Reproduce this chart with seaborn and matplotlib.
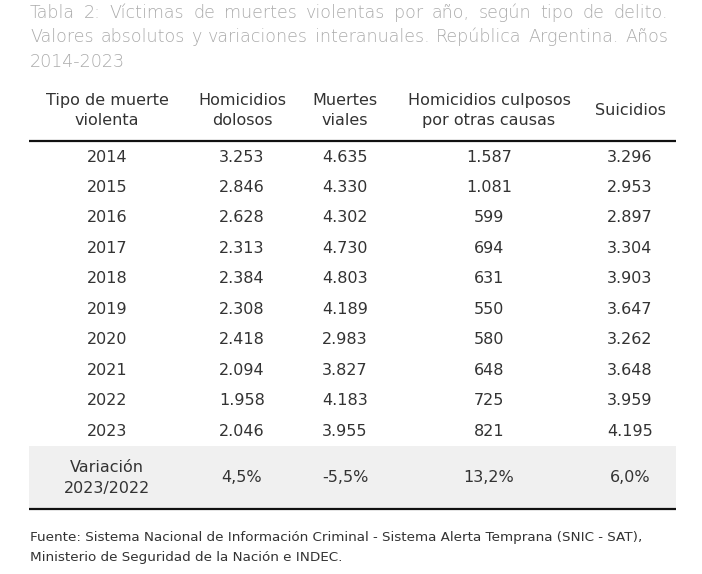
import matplotlib
matplotlib.use("Agg")
import matplotlib.pyplot as plt
import seaborn as sns

# -----------------------------------------------------------------------------
# Data
# -----------------------------------------------------------------------------
years = [2014, 2015, 2016, 2017, 2018, 2019, 2020, 2021, 2022, 2023]
homicidios_dolosos = [3253, 2846, 2628, 2313, 2384, 2308, 2418, 2094, 1958, 2046]
muertes_viales = [4635, 4330, 4302, 4730, 4803, 4189, 2983, 3827, 4183, 3955]
homicidios_culposos = [1587, 1081, 599, 694, 631, 550, 580, 648, 725, 821]
suicidios = [3296, 2953, 2897, 3304, 3903, 3647, 3262, 3648, 3959, 4195]
variacion = [4.5, -5.5, 13.2, 6.0]

headers = ["Tipo de muerte\nviolenta", "Homicidios\ndolosos", "Muertes\nviales",
           "Homicidios culposos\npor otras causas", "Suicidios"]
title_lines = [
    "Tabla 2: Víctimas de muertes violentas por año, según tipo de delito.",
    "Valores absolutos y variaciones interanuales. República Argentina. Años",
    "2014-2023",
]
source_lines = [
    "Fuente: Sistema Nacional de Información Criminal - Sistema Alerta Temprana (SNIC - SAT),",
    "Ministerio de Seguridad de la Nación e INDEC.",
]

# -----------------------------------------------------------------------------
# Style
# -----------------------------------------------------------------------------
sns.set_theme(style="white")
plt.rcParams["font.family"] = ["DejaVu Sans"]

TEXT = "#333333"
TITLE_GRAY = "#ababab"
BAND = "#f0f0f0"
FS = 11.5
TFS = 12.6


def fmt_int(v):
    return f"{v:,}".replace(",", ".")


def fmt_pct(v):
    return f"{v:.1f}%".replace(".", ",")


fig = plt.figure(figsize=(7.02, 5.74), dpi=100)
ax = fig.add_axes([0, 0, 1, 1])
ax.set_xlim(0, 702)
ax.set_ylim(574, 0)
ax.axis("off")

# ---- title (justified) ------------------------------------------------------
left, right = 30, 668
title_y = [18, 42.5, 67]
renderer = fig.canvas.get_renderer()
for i, line in enumerate(title_lines):
    words = line.split(" ")
    if i == len(title_lines) - 1:
        ax.text(left, title_y[i], line, fontsize=TFS, color=TITLE_GRAY,
                ha="left", va="baseline", fontweight="light")
        continue
    arts = [ax.text(0, title_y[i], w, fontsize=TFS, color=TITLE_GRAY,
                    ha="left", va="baseline", fontweight="light") for w in words]
    widths = [a.get_window_extent(renderer).width for a in arts]
    gap = (right - left - sum(widths)) / (len(words) - 1)
    x = left
    for a, w in zip(arts, widths):
        a.set_x(x)
        x += w + gap

# ---- table ------------------------------------------------------------------
col_x = [107, 242, 345, 489, 630]
for x, h in zip(col_x, headers):
    ax.text(x, 110.5, h, fontsize=FS, color=TEXT, ha="center", va="center",
            linespacing=1.42)

ax.plot([29, 676], [141, 141], color="#111111", lw=1.6, solid_capstyle="butt")

row_y0, row_dy = 157, 30.45
for r, yr in enumerate(years):
    y = row_y0 + r * row_dy
    vals = [str(yr), fmt_int(homicidios_dolosos[r]), fmt_int(muertes_viales[r]),
            fmt_int(homicidios_culposos[r]), fmt_int(suicidios[r])]
    for x, v in zip(col_x, vals):
        ax.text(x, y, v, fontsize=FS, color=TEXT, ha="center", va="center")

ax.fill_between([29, 676], 446, 509, color=BAND, lw=0)
ax.text(col_x[0], 478, "Variación\n2023/2022", fontsize=FS, color=TEXT,
        ha="center", va="center", linespacing=1.42)
for x, v in zip(col_x[1:], variacion):
    ax.text(x, 478, fmt_pct(v), fontsize=FS, color=TEXT, ha="center", va="center")
ax.plot([29, 676], [509, 509], color="#111111", lw=1.6, solid_capstyle="butt")

# ---- source -----------------------------------------------------------------
for i, line in enumerate(source_lines):
    ax.text(30, 541 + i * 20, line, fontsize=9.7, color=TEXT,
            ha="left", va="baseline")

fig.savefig("out.png", dpi=100, facecolor="white")
plt.close(fig)
